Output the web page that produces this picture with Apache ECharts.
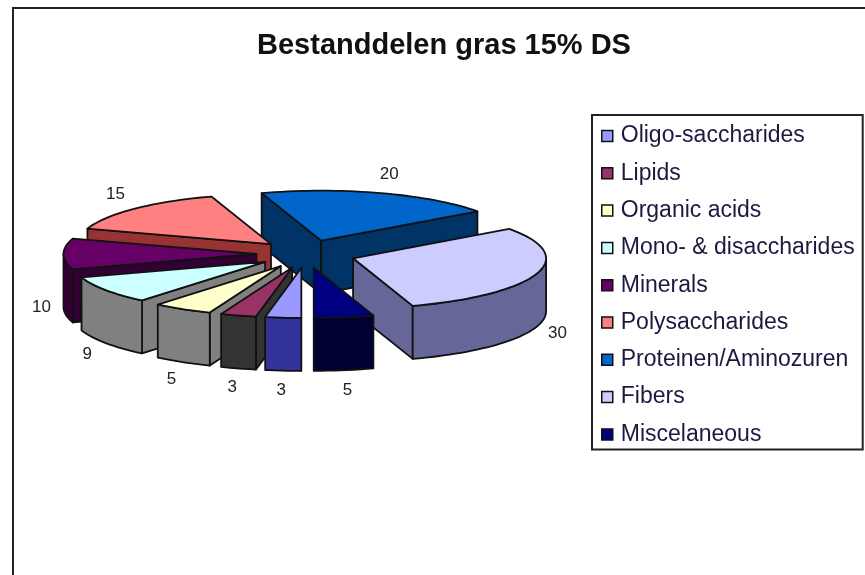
<!DOCTYPE html>
<html><head><meta charset="utf-8">
<style>html,body{margin:0;padding:0;background:#fff}#c{width:865px;height:575px}</style>
<script src="https://cdn.jsdelivr.net/npm/echarts@6/dist/echarts.min.js"></script>
</head><body><div id="c"></div>
<script>
const categories = ['Oligo-saccharides','Lipids','Organic acids','Mono- & disaccharides','Minerals','Polysaccharides','Proteinen/Aminozuren','Fibers','Miscelaneous'];
const values = [3,3,5,9,10,15,20,30,5];
const topColors = ['#9999FF','#993366','#FFFFCC','#CCFFFF','#660066','#FF8080','#0066CC','#CCCCFF','#000080'];
const wallColors = ['#333399','#333333','#808080','#808080','#330033','#993333','#003366','#666699','#000033'];

const CX = 306, CY = 254, R = 193, RK = 50, EX = 49.5, EK = 14, DEPTH = 53;
const START = 180;
const total = values.reduce((a, b) => a + b, 0);
const rad = d => d * Math.PI / 180;

let acc = START;
const slices = values.map((v, i) => {
  const a0 = acc; const a1 = acc + v / total * 360; acc = a1;
  const mid = (a0 + a1) / 2;
  return { i, a0, a1, mid,
    tip: [CX + EX * Math.sin(rad(mid)), CY - EK * Math.cos(rad(mid))] };
});
const rim = (s, a) => [s.tip[0] + R * Math.sin(rad(a)), s.tip[1] - RK * Math.cos(rad(a))];
const drop = p => [p[0], p[1] + DEPTH];
const STROKE = { stroke: '#111', lineWidth: 1.8, lineJoin: 'round' };

function poly(points, fill) {
  return { type: 'polygon', shape: { points }, style: Object.assign({ fill }, STROKE) };
}
function renderSlice(s) {
  return function () {
    const kids = [];
    const wall = wallColors[s.i];
    const cut = a => { const p = rim(s, a); return poly([s.tip, p, drop(p), drop(s.tip)], wall); };
    if (Math.sin(rad(s.a0)) < -1e-6) kids.push(cut(s.a0));
    if (Math.sin(rad(s.a1)) > 1e-6) kids.push(cut(s.a1));
    // The outer wall shows wherever the rim faces the viewer (90..270 degrees, also one turn on).
    [0, 360].forEach(turn => {
      const lo = Math.max(s.a0, 90 + turn), hi = Math.min(s.a1, 270 + turn);
      if (hi > lo) {
        const up = [];
        for (let a = lo; a < hi; a += 2) up.push(rim(s, a));
        up.push(rim(s, hi));
        kids.push(poly(up.concat(up.slice().reverse().map(drop)), wall));
      }
    });
    const top = [s.tip];
    for (let a = s.a0; a < s.a1; a += 2) top.push(rim(s, a));
    top.push(rim(s, s.a1));
    kids.push(poly(top, topColors[s.i]));
    const sn = Math.sin(rad(s.mid)), cs = Math.cos(rad(s.mid));
    const edge = rim(s, s.mid);
    kids.push({ type: 'text', style: {
      text: String(values[s.i]),
      x: edge[0] + (cs > 0 ? 27 : 22) * sn,
      y: edge[1] - 20 * cs + (cs < 0.05 ? DEPTH : 0),
      align: 'center', verticalAlign: 'middle',
      font: '17px "Liberation Sans", Arial, sans-serif', fill: '#222'
    }});
    return { type: 'group', children: kids };
  };
}
const drawOrder = slices.slice().sort((a, b) => Math.cos(rad(b.mid)) - Math.cos(rad(a.mid)));

const chart = echarts.init(document.getElementById('c'), null, { renderer: 'canvas' });
chart.setOption({
  animation: false,
  backgroundColor: '#fff',
  title: {
    text: 'Bestanddelen gras 15% DS', left: 439, top: 26, textAlign: 'center',
    textStyle: { fontFamily: '"Liberation Sans", Arial, sans-serif', fontSize: 29, fontWeight: 'bold', color: '#111' }
  },
  legend: {
    orient: 'vertical', left: 592, top: 115, icon: 'rect', selectedMode: false,
    data: categories, itemWidth: 11, itemHeight: 11, itemGap: 11.3,
    padding: [8, 8, 2, 9], borderColor: '#222', borderWidth: 2, backgroundColor: '#fff',
    itemStyle: { borderColor: '#111', borderWidth: 1.5 },
    textStyle: { fontFamily: '"Liberation Sans", Arial, sans-serif', fontSize: 23, color: '#1a1a40', lineHeight: 26, padding: [0, 0, 0, 3] }
  },
  graphic: [{ type: 'rect', z: -1, shape: { x: 13, y: 8, width: 900, height: 620 },
    style: { fill: 'none', stroke: '#222', lineWidth: 2 }, silent: true }],
  series: drawOrder.map(s => ({
    type: 'custom', name: categories[s.i], coordinateSystem: 'none',
    data: [[values[s.i]]], silent: true, clip: false,
    itemStyle: { color: topColors[s.i] },
    renderItem: renderSlice(s)
  }))
});
</script></body></html>
